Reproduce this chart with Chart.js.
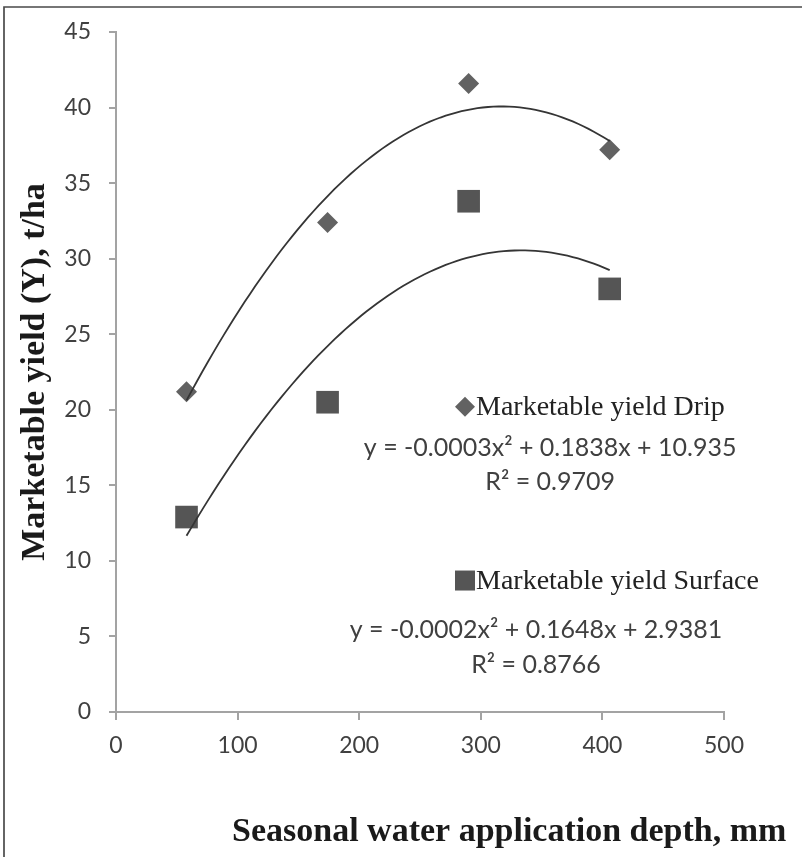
<!DOCTYPE html>
<html>
<head>
<meta charset="utf-8">
<script src="https://cdn.jsdelivr.net/npm/chart.js@4.4.1/dist/chart.umd.min.js"></script>
<style>
html,body{margin:0;padding:0;background:#fff;}
#wrap{width:802px;height:857px;position:relative;}
</style>
</head>
<body>
<div id="wrap"><canvas id="c" width="802" height="857"></canvas></div>
<script>
// ---- data ----
const waterDepth = [58, 174, 290, 406];
const dripYield = [21.2, 32.4, 41.6, 37.2];
const surfaceYield = [12.9, 20.5, 33.8, 28.0];
const xTickValues = [0, 100, 200, 300, 400, 500];
const yTickValues = [0, 5, 10, 15, 20, 25, 30, 35, 40, 45];
const seriesNames = ['Marketable yield Drip', 'Marketable yield Surface'];
const equationLabels = ['y = -0.0003x\u00B2 + 0.1838x + 10.935', 'y = -0.0002x\u00B2 + 0.1648x + 2.9381'];
const r2Labels = ['R\u00B2 = 0.9709', 'R\u00B2 = 0.8766'];
const xTitle = 'Seasonal water application depth, mm';
const yTitle = 'Marketable yield (Y), t/ha';

// least-squares quadratic trendline (as the spreadsheet computes it)
function quadFit(xs, ys) {
  const S = [0, 0, 0, 0, 0], T = [0, 0, 0];
  for (let i = 0; i < xs.length; i++) {
    let p = 1;
    for (let k = 0; k < 5; k++) { S[k] += p; if (k < 3) T[k] += p * ys[i]; p *= xs[i]; }
  }
  const M = [[S[0], S[1], S[2], T[0]], [S[1], S[2], S[3], T[1]], [S[2], S[3], S[4], T[2]]];
  for (let c = 0; c < 3; c++) {
    for (let r = c + 1; r < 3; r++) {
      const f = M[r][c] / M[c][c];
      for (let k = c; k < 4; k++) M[r][k] -= f * M[c][k];
    }
  }
  const a = [0, 0, 0];
  for (let r = 2; r >= 0; r--) {
    let s = M[r][3];
    for (let k = r + 1; k < 3; k++) s -= M[r][k] * a[k];
    a[r] = s / M[r][r];
  }
  return a; // a0 + a1 x + a2 x^2
}
function trendPoints(xs, ys) {
  const a = quadFit(xs, ys);
  const lo = Math.min(...xs), hi = Math.max(...xs), n = 80, out = [];
  for (let i = 0; i <= n; i++) {
    const x = lo + (hi - lo) * i / n;
    out.push({ x: x, y: a[0] + a[1] * x + a[2] * x * x });
  }
  return out;
}
const toPts = (xs, ys) => xs.map((x, i) => ({ x: x, y: ys[i] }));

const AXIS = '#a3a3a3';
const TICKFONT = { family: 'Lato', size: 23 };

const annot = {
  id: 'annot',
  afterDraw(chart) {
    const ctx = chart.ctx, ca = chart.chartArea;
    const xs = chart.scales.x, ys = chart.scales.y;
    ctx.save();
    // frame (top + left edges)
    ctx.strokeStyle = '#4a4a4a'; ctx.lineWidth = 1.7;
    ctx.beginPath(); ctx.moveTo(4, 857); ctx.lineTo(4, 7); ctx.lineTo(802, 7); ctx.stroke();

    // axis titles
    ctx.fillStyle = '#1a1a1a';
    ctx.font = 'bold 34px "Liberation Serif"';
    ctx.textBaseline = 'middle';
    ctx.textAlign = 'left';
    ctx.fillText(xTitle, 232, 832);
    ctx.save();
    ctx.translate(35, (ca.top + ca.bottom) / 2);
    ctx.rotate(-Math.PI / 2);
    ctx.textAlign = 'center';
    ctx.fillText(yTitle, 0, 0);
    ctx.restore();

    // legend entries + trendline labels
    const entries = [
      { style: 'diamond', color: '#626262', lx: 287, ly: 20.2, ex: 357, ey: 17.5, rx: 357, ry: 15.2 },
      { style: 'square', color: '#555555', lx: 287, ly: 8.7, ex: 345.4, ey: 5.4, rx: 345.4, ry: 3.1 }
    ];
    entries.forEach((e, i) => {
      const px = xs.getPixelForValue(e.lx), py = ys.getPixelForValue(e.ly);
      ctx.fillStyle = e.color;
      ctx.beginPath();
      if (e.style === 'diamond') {
        ctx.moveTo(px, py - 10); ctx.lineTo(px + 10, py); ctx.lineTo(px, py + 10); ctx.lineTo(px - 10, py);
      } else {
        ctx.rect(px - 10, py - 10, 20, 20);
      }
      ctx.closePath(); ctx.fill();
      ctx.fillStyle = '#222';
      ctx.font = '28px "Liberation Serif"';
      ctx.textAlign = 'left'; ctx.textBaseline = 'middle';
      ctx.fillText(seriesNames[i], px + 11, py + 1);
      ctx.fillStyle = '#404040';
      ctx.font = '25px Lato';
      ctx.textAlign = 'center';
      ctx.fillText(equationLabels[i], xs.getPixelForValue(e.ex), ys.getPixelForValue(e.ey));
      ctx.fillText(r2Labels[i], xs.getPixelForValue(e.rx), ys.getPixelForValue(e.ry));
    });
    ctx.restore();
  }
};

new Chart(document.getElementById('c'), {
  type: 'scatter',
  data: {
    datasets: [
      { label: seriesNames[0] + ' trend', type: 'line', data: trendPoints(waterDepth, dripYield), showLine: true,
        pointRadius: 0, borderColor: '#353535', borderWidth: 1.8, fill: false, tension: 0, order: 0 },
      { label: seriesNames[1] + ' trend', type: 'line', data: trendPoints(waterDepth, surfaceYield), showLine: true,
        pointRadius: 0, borderColor: '#353535', borderWidth: 1.8, fill: false, tension: 0, order: 0 },
      { label: seriesNames[0], data: toPts(waterDepth, dripYield), pointStyle: 'rectRot', pointRadius: 10.5,
        backgroundColor: '#626262', borderColor: '#626262', borderWidth: 0, order: 1 },
      { label: seriesNames[1], data: toPts(waterDepth, surfaceYield), pointStyle: 'rect', pointRadius: 16,
        backgroundColor: '#555555', borderColor: '#555555', borderWidth: 0, order: 1 }
    ]
  },
  options: {
    responsive: false,
    animation: false,
    devicePixelRatio: 1,
    layout: { padding: { top: 32, right: 78, left: 0, bottom: 0 } },
    plugins: { legend: { display: false }, tooltip: { enabled: false } },
    scales: {
      x: {
        type: 'linear', min: 0, max: 500,
        afterFit: s => { s.height = 145; },
        afterBuildTicks: s => { s.ticks = xTickValues.map(v => ({ value: v })); },
        ticks: { font: TICKFONT, color: '#404040', padding: 12, maxRotation: 0 },
        grid: { drawOnChartArea: false, drawTicks: true, tickLength: 8, color: AXIS, lineWidth: 2 },
        border: { color: AXIS, width: 2 }
      },
      y: {
        type: 'linear', min: 0, max: 45,
        afterFit: s => { s.width = 116; },
        afterBuildTicks: s => { s.ticks = yTickValues.map(v => ({ value: v })); },
        ticks: { font: TICKFONT, color: '#404040', padding: 18 },
        grid: { drawOnChartArea: false, drawTicks: true, tickLength: 7, color: AXIS, lineWidth: 2 },
        border: { color: AXIS, width: 2 }
      }
    }
  },
  plugins: [annot]
});
</script>
</body>
</html>
